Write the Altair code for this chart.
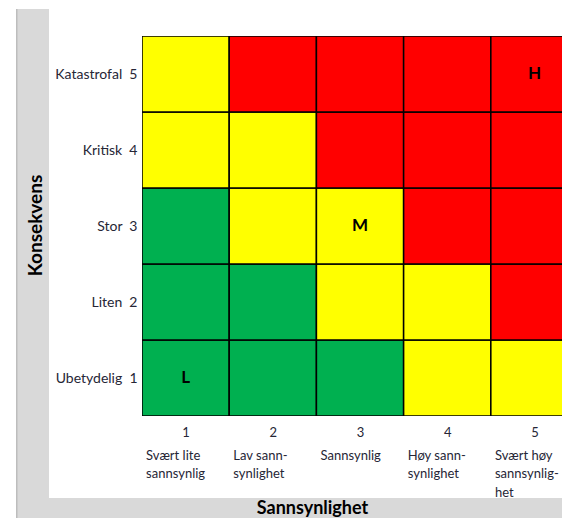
import json
import altair as alt
import pandas as pd

# ---- data -------------------------------------------------------------
prob_levels = [1, 2, 3, 4, 5]
prob_names = [
    ["Svært lite", "sannsynlig"],
    ["Lav sann-", "synlighet"],
    ["Sannsynlig"],
    ["Høy sann-", "synlighet"],
    ["Svært høy", "sannsynlig-", "het"],
]
cons_levels = [1, 2, 3, 4, 5]
cons_names = ["Ubetydelig", "Liten", "Stor", "Kritisk", "Katastrofal"]

# risk class per consequence level, for probability 1..5
risk_c1 = ["G", "G", "G", "Y", "Y"]
risk_c2 = ["G", "G", "Y", "Y", "R"]
risk_c3 = ["G", "Y", "Y", "R", "R"]
risk_c4 = ["Y", "Y", "R", "R", "R"]
risk_c5 = ["Y", "R", "R", "R", "R"]

letter_prob = [1, 3, 5]
letter_cons = [1, 3, 5]
letter_text = ["L", "M", "H"]

risk_classes = ["G", "Y", "R"]
risk_colors = ["#00B050", "#FFFF00", "#FF0000"]

# ---- tables -------------------------------------------------------------
rows = []
for c, risks in zip(cons_levels, [risk_c1, risk_c2, risk_c3, risk_c4, risk_c5]):
    for p, r in zip(prob_levels, risks):
        rows.append({"prob": p, "cons": c, "risk": r})
cells_df = pd.DataFrame(rows)
letters_df = pd.DataFrame({"prob": letter_prob, "cons": letter_cons, "txt": letter_text})
one = pd.DataFrame({"a": [0]})

FONT = "Lato"
LABEL_COLOR = "#262636"

xscale = alt.Scale(domain=[0.5, 5.316], nice=False, zero=False)
yscale = alt.Scale(domain=[0.5, 5.5], nice=False, zero=False)

y_label_list = [""] + [f"{n}\u00a0 {v}" for n, v in zip(cons_names, cons_levels)]
yaxis = alt.Axis(
    orient="left", values=cons_levels,
    labelExpr=json.dumps(y_label_list, ensure_ascii=False) + "[datum.value]",
    ticks=False, tickSize=0, domain=False, grid=False,
    labelPadding=5, labelFont=FONT, labelFontSize=14, labelColor=LABEL_COLOR,
    labelBaseline="middle",
    title="Konsekvens", titleFont=FONT, titleFontSize=19, titleFontWeight="bold",
    titleColor="black", titleX=-107, titleY=189, titleAngle=270,
    titleAlign="center", titleBaseline="middle", zindex=1,
)

x_num_axis = alt.Axis(
    orient="bottom", values=prob_levels, format="d",
    ticks=False, tickSize=0, domain=False, grid=False, labelAngle=0,
    labelPadding=16, labelBaseline="middle", labelFlush=False, labelOverlap=False,
    labelFont=FONT, labelFontSize=13, labelColor=LABEL_COLOR,
    title="Sannsynlighet", titleFont=FONT, titleFontSize=18, titleFontWeight="bold",
    titleColor="black", titleX=170, titleY=92, titleAlign="center",
    titleBaseline="middle", zindex=1,
)

x_name_axis = alt.Axis(
    orient="bottom", values=prob_levels,
    labelExpr=json.dumps(prob_names, ensure_ascii=False) + "[datum.value - 1]",
    ticks=False, tickSize=0, domain=False, grid=False, labelAngle=0,
    labelAlign="left", labelOffset=-40, labelBaseline="top", labelPadding=33,
    labelLineHeight=18.5, labelFlush=False, labelOverlap=False,
    labelFont=FONT, labelFontSize=13, labelColor=LABEL_COLOR,
    title=None, zindex=1,
)

left_band = alt.Chart(one).mark_rect(color="#D9D9D9").encode(
    x=alt.value(-126), x2=alt.value(-93), y=alt.value(-27), y2=alt.value(490)
)
bottom_band = alt.Chart(one).mark_rect(color="#D9D9D9").encode(
    x=alt.value(-126), x2=alt.value(440), y=alt.value(462), y2=alt.value(490)
)
left_edge = alt.Chart(one).mark_rect(color="#BDBDBD").encode(
    x=alt.value(-126), x2=alt.value(-124.5), y=alt.value(-27), y2=alt.value(490)
)

cells = alt.Chart(cells_df).transform_calculate(
    x0="datum.prob - 0.5", x1="datum.prob + 0.5",
    y0="datum.cons - 0.5", y1="datum.cons + 0.5",
).mark_rect(stroke="black", strokeWidth=1.5, clip=True).encode(
    x=alt.X("x0:Q", scale=xscale, axis=x_num_axis),
    x2="x1:Q",
    y=alt.Y("y0:Q", scale=yscale, axis=yaxis),
    y2="y1:Q",
    color=alt.Color("risk:N", scale=alt.Scale(domain=risk_classes, range=risk_colors), legend=None),
)

letters = alt.Chart(letters_df).mark_text(
    font=FONT, fontSize=17, fontWeight="bold", color="black", clip=True
).encode(
    x=alt.X("prob:Q", scale=xscale, axis=x_name_axis),
    y=alt.Y("cons:Q", scale=yscale, axis=yaxis),
    text="txt:N",
)

chart = alt.layer(left_band, bottom_band, left_edge, cells, letters).resolve_scale(
    x="independent"
).resolve_axis(x="independent").properties(
    width=420, height=380,
    autosize=alt.AutoSizeParams(type="none"),
    padding={"left": 134, "top": 28, "right": 0, "bottom": 102},
    background="white",
).configure_view(stroke=None)

chart.save("out.html", embed_options={"renderer": "svg", "actions": False})
